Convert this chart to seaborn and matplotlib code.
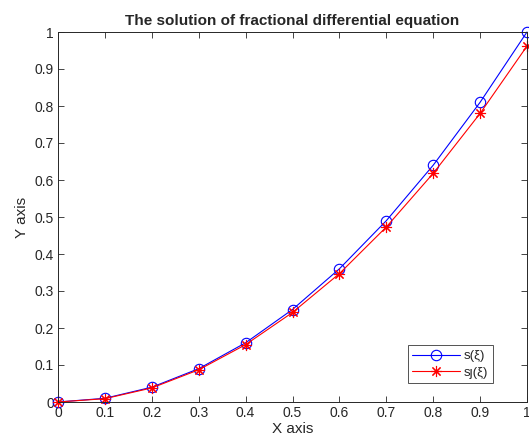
import numpy as np
import pandas as pd
import seaborn as sns
import matplotlib
matplotlib.use("Agg")
import matplotlib.pyplot as plt

# values
x_vals = [0, 0.1, 0.2, 0.3, 0.4, 0.5, 0.6, 0.7, 0.8, 0.9, 1.0]
s_vals = [0, 0.01, 0.04, 0.09, 0.16, 0.25, 0.36, 0.49, 0.64, 0.81, 1.0]
sj_vals = [0, 0.009, 0.038, 0.087, 0.155, 0.242, 0.347, 0.473, 0.618, 0.780, 0.962]
x_ticks = [0, 0.1, 0.2, 0.3, 0.4, 0.5, 0.6, 0.7, 0.8, 0.9, 1]
y_ticks = [0, 0.1, 0.2, 0.3, 0.4, 0.5, 0.6, 0.7, 0.8, 0.9, 1]

sns.set_style("white")
plt.rcParams['font.family'] = ['Liberation Sans', 'DejaVu Sans']

fig = plt.figure(figsize=(5.29, 4.43), dpi=100)
ax = fig.add_axes([58 / 529, 1 - 402 / 443, 469 / 529, 370 / 443])

df = pd.DataFrame({"x": x_vals, "s": s_vals, "sj": sj_vals})
sns.lineplot(data=df, x="x", y="s", ax=ax, color="#0000ff", marker="o", markersize=7.5,
             markerfacecolor="none", markeredgecolor="#0000ff", markeredgewidth=0.8,
             linewidth=0.8, label="s(ξ)", clip_on=False)
# matlab style asterisk marker
sns.lineplot(data=df, x="x", y="sj", ax=ax, color="#ff0000", marker=(8, 2, 0), markersize=8,
             markeredgecolor="#ff0000", markeredgewidth=0.8,
             linewidth=0.8, label="sȷ(ξ)", clip_on=False)

ax.set_xlim(0, 1)
ax.set_ylim(0, 1)
ax.set_xticks(x_ticks)
ax.set_yticks(y_ticks)
ax.set_xticklabels([f"{t:g}" for t in x_ticks], fontsize=10)
ax.set_yticklabels([f"{t:g}" for t in y_ticks], fontsize=10)
ax.tick_params(direction="in", length=4, width=0.6, top=True, right=True,
               bottom=True, left=True, colors="#262626", pad=3)
for sp in ax.spines.values():
    sp.set_linewidth(0.7)
    sp.set_color("#262626")
    sp.set_visible(True)

ax.set_xlabel("X axis", fontsize=11, labelpad=1)
ax.set_ylabel("Y axis", fontsize=11, labelpad=4)
ax.set_title("The solution of fractional differential equation", fontsize=11,
             fontweight="bold", pad=5)

leg = ax.legend(loc="lower right", bbox_to_anchor=(0.927, 0.051), fontsize=9.5,
                frameon=True, fancybox=False, borderaxespad=0, handlelength=3.6,
                labelspacing=0.3, borderpad=0.35, handletextpad=0.3)
leg.get_frame().set_edgecolor("#262626")
leg.get_frame().set_linewidth(0.7)

fig.savefig("out.png", dpi=100)
